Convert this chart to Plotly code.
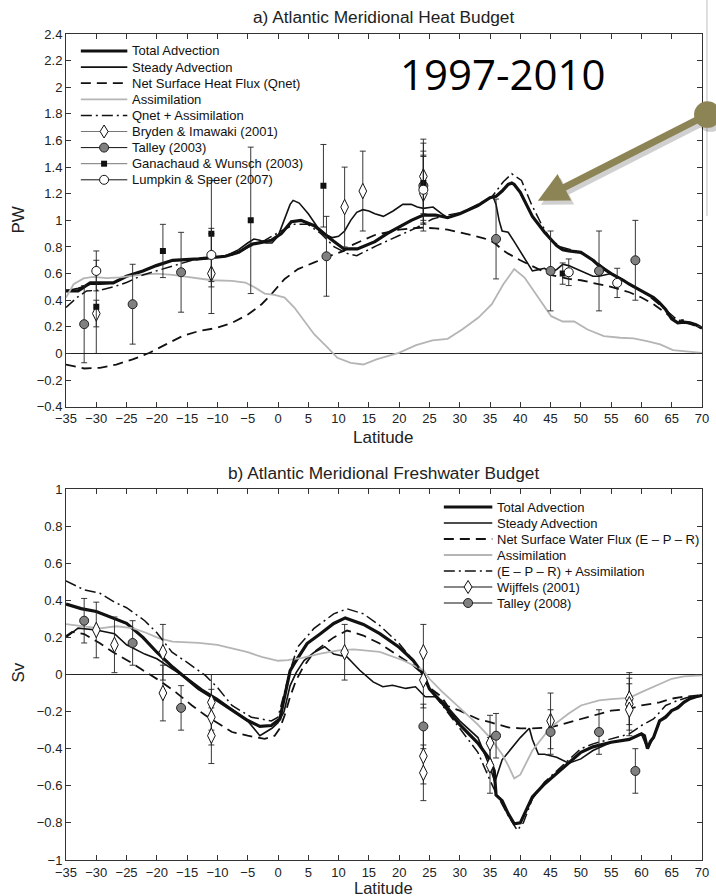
import plotly.graph_objects as go

# ================= Panel a: Atlantic Meridional Heat Budget (PW) =================
ht_total_lat = [-35, -33, -31, -29.4, -27.2, -25, -22.3, -20.1, -17.4, -13.1, -8.7, -6.5, -4.4, -2.7, -1.1,
                0.55, 2.2, 3.8, 6, 8.7, 10.9, 13.1, 16, 18, 20, 22, 24, 26, 28, 30, 33, 35, 36, 37, 38, 38.6,
                39, 40, 41, 42, 43, 44, 45, 46, 47, 48, 50, 52, 53, 55, 57, 58, 60, 62, 63, 64, 65, 66, 67, 68, 69, 70]
ht_total = [0.47, 0.47, 0.53, 0.53, 0.53, 0.58, 0.62, 0.66, 0.70, 0.71, 0.73, 0.76, 0.82, 0.835, 0.85,
            0.90, 0.99, 1.0, 0.96, 0.86, 0.785, 0.785, 0.84, 0.90, 0.95, 1.0, 1.04, 1.04, 1.02, 1.05, 1.11, 1.17,
            1.18, 1.22, 1.27, 1.28, 1.27, 1.21, 1.12, 1.03, 0.97, 0.91, 0.86, 0.81, 0.78, 0.77, 0.76, 0.70, 0.66,
            0.60, 0.55, 0.52, 0.47, 0.42, 0.38, 0.33, 0.26, 0.23, 0.235, 0.23, 0.215, 0.19]

ht_steady_lat = [-35, -33, -31, -29.4, -27.2, -25, -22.3, -20.1, -17.4, -13.1, -8.7, -6.5, -5, -4, -3, -2, -1, 0,
                 1, 2, 2.5, 3.5, 5, 6.5, 8, 9, 10, 11, 12, 13, 14, 15, 16, 17.4, 19, 20.6, 22, 23, 24, 25.6, 27,
                 28, 30, 33, 35, 35.5, 36, 36.5, 37, 38, 39, 40, 41, 42, 43, 44, 45, 46, 47, 48, 49, 50, 52, 53,
                 54, 55, 57, 58, 60, 62, 63, 64, 65, 66, 67, 68, 69, 70]
ht_steady = [0.47, 0.49, 0.52, 0.52, 0.53, 0.58, 0.62, 0.66, 0.70, 0.71, 0.73, 0.78, 0.83, 0.86, 0.85, 0.83,
             0.83, 0.88, 1.0, 1.12, 1.15, 1.13, 1.05, 0.95, 0.89, 0.87, 0.88, 0.92, 1.0, 1.06, 1.08, 1.07, 1.05,
             1.03, 1.07, 1.12, 1.12, 1.10, 1.09, 1.10, 1.05, 1.02, 1.05, 1.11, 1.17, 1.18, 1.12, 1.0, 0.92,
             0.91, 0.84, 0.77, 0.70, 0.62, 0.63, 0.64, 0.61, 0.63, 0.67, 0.66, 0.64, 0.62, 0.58, 0.58, 0.59,
             0.60, 0.55, 0.52, 0.47, 0.42, 0.38, 0.33, 0.26, 0.23, 0.235, 0.23, 0.215, 0.19]

ht_qnet_lat = [-35, -32, -29.4, -26.7, -24, -21.2, -18.5, -15.8, -13.1, -10.3, -7.6, -4.9, -2.7, -1.1, 1.1, 3.3,
               6, 8.7, 10.9, 12, 14, 16, 18, 20, 22, 24, 26, 28, 30, 32, 34, 35, 36, 37, 38, 40, 42, 45, 48, 50,
               52, 55, 58, 60, 62, 64, 65, 66, 67]
ht_qnet = [-0.083, -0.113, -0.108, -0.083, -0.045, 0.005, 0.068, 0.13, 0.168, 0.19, 0.23, 0.294, 0.37, 0.445,
           0.56, 0.634, 0.684, 0.735, 0.77, 0.81, 0.85, 0.89, 0.91, 0.93, 0.94, 0.945, 0.94, 0.93, 0.91, 0.89,
           0.865, 0.85, 0.82, 0.78, 0.75, 0.70, 0.655, 0.59, 0.56, 0.55, 0.53, 0.50, 0.46, 0.42, 0.37, 0.30,
           0.27, 0.25, 0.25]

ht_assim_lat = [-35, -33.75, -32.1, -30.5, -28.3, -26.1, -22.9, -20.1, -17.4, -14.2, -10.9, -7.6, -5.4, -3.8,
                -2.2, -0.55, 1.1, 2.7, 4.4, 6.0, 8.2, 9.8, 12.0, 14.1, 16.25, 19.95, 22.8, 25.5, 28.0, 30.4,
                33.1, 35.3, 37.2, 39.0, 40.7, 42.9, 45.1, 47.0, 48.9, 51.1, 53.8, 56.5, 58.7, 60.9, 63.1,
                65.2, 67.4, 70]
ht_assim = [0.42, 0.52, 0.564, 0.576, 0.566, 0.571, 0.59, 0.60, 0.59, 0.57, 0.55, 0.546, 0.533, 0.496, 0.45,
            0.44, 0.42, 0.345, 0.244, 0.143, 0.043, -0.033, -0.07, -0.083, -0.045, 0.005, 0.063, 0.098, 0.11,
            0.18, 0.27, 0.37, 0.52, 0.634, 0.57, 0.42, 0.28, 0.24, 0.24, 0.18, 0.13, 0.118, 0.113, 0.093,
            0.068, 0.025, 0.018, 0.005]

ht_qa_lat = [-35, -33.2, -31.6, -29.4, -27.2, -25, -22.3, -20.1, -17.4, -14.2, -10.9, -7.6, -4.9, -2.2, 0.55,
             2.7, 4.9, 7.1, 9.3, 11.5, 13, 16.3, 20, 22.8, 25.5, 28, 30.4, 33.1, 35.3, 37.2, 38.6, 40.2, 41.8,
             43.5, 45.1, 46.7, 50, 52.2, 55, 58.2, 60.9, 64.2, 65.8, 67.4, 70]
ht_qa = [0.345, 0.42, 0.47, 0.475, 0.50, 0.533, 0.59, 0.62, 0.66, 0.70, 0.717, 0.74, 0.80, 0.85, 0.92, 0.97,
         0.97, 0.90, 0.80, 0.75, 0.735, 0.81, 0.886, 0.943, 1.01, 1.04, 1.06, 1.125, 1.175, 1.29, 1.35, 1.30,
         1.125, 0.97, 0.85, 0.80, 0.76, 0.70, 0.60, 0.52, 0.445, 0.32, 0.257, 0.23, 0.19]

# observations (heat)
bryden_lat = [-30, -11, 11, 14, 24, 24]
bryden_pw = [0.30, 0.60, 1.10, 1.22, 1.33, 1.20]
bryden_err = [0.10, 0.30, 0.30, 0.30, 0.28, 0.28]

talley03_lat = [-32, -24, -16, 8, 24, 36, 45, 53, 59]
talley03_pw = [0.22, 0.37, 0.61, 0.73, 1.26, 0.86, 0.62, 0.62, 0.70]
talley03_err = [0.29, 0.30, 0.30, 0.30, 0.26, 0.30, 0.30, 0.30, 0.30]

ganach_lat = [-30, -19, -11, -4.5, 7.5, 24, 47]
ganach_pw = [0.35, 0.77, 0.90, 1.00, 1.26, 1.28, 0.60]
ganach_err = [0.35, 0.20, 0.40, 0.55, 0.31, 0.30, 0.08]

lumpkin_lat = [-30, -11, 24, 48, 56]
lumpkin_pw = [0.62, 0.74, 1.23, 0.61, 0.53]
lumpkin_err = [0.15, 0.20, 0.26, 0.10, 0.11]

# ================= Panel b: Atlantic Meridional Freshwater Budget (Sv) =================
fw_total_lat = [-35, -32.5, -30, -27.5, -25, -22.3, -20, -17.4, -15, -13.1, -10, -7.6, -5, -3, -1.1, 0.3, 1, 2,
                2.7, 4.8, 7, 9.2, 11.1, 14.1, 16.8, 20, 22.3, 24, 25, 27, 30, 33, 35, 35.7, 36, 37, 38, 39, 40,
                41, 42, 44, 46, 48, 50, 52, 55, 58, 60, 60.5, 61, 61.5, 62, 63, 64, 65, 66, 67, 68, 69, 70]
fw_total = [0.38, 0.355, 0.34, 0.31, 0.276, 0.20, 0.12, 0.04, -0.023, -0.077, -0.14, -0.194, -0.248, -0.28,
            -0.275, -0.24, -0.14, 0.02, 0.06, 0.167, 0.22, 0.275, 0.305, 0.27, 0.22, 0.147, 0.077, 0.0, -0.077,
            -0.15, -0.27, -0.37, -0.46, -0.52, -0.65, -0.68, -0.75, -0.805, -0.80, -0.73, -0.66, -0.59, -0.535,
            -0.48, -0.42, -0.39, -0.365, -0.35, -0.32, -0.33, -0.40, -0.36, -0.34, -0.25, -0.23, -0.195, -0.18,
            -0.15, -0.13, -0.12, -0.113]

fw_steady_lat = [-35, -33, -30, -27, -25, -22, -20, -17.5, -15, -12.5, -10, -7.5, -5, -4, -3, -2, -1, 0, 1, 2,
                 3, 4.3, 6, 7.7, 9.2, 11.4, 13.5, 15.7, 17.3, 18.9, 21.1, 22.7, 24.3, 26, 27, 28, 30, 33, 35,
                 35.8, 37, 38, 40, 41.5, 42, 43, 44, 46, 48, 50, 52, 53, 55, 58, 60, 61, 62, 63, 65, 67, 68, 70]
fw_steady = [0.20, 0.25, 0.24, 0.22, 0.16, 0.11, 0.085, 0.03, -0.02, -0.08, -0.13, -0.19, -0.25, -0.29,
             -0.33, -0.31, -0.29, -0.26, -0.20, -0.06, 0.01, 0.075, 0.12, 0.15, 0.11, 0.095, 0.023, -0.04,
             -0.066, -0.058, -0.075, -0.066, -0.12, -0.12, -0.14, -0.176, -0.25, -0.34, -0.50, -0.58, -0.46,
             -0.42, -0.34, -0.29, -0.35, -0.43, -0.43, -0.446, -0.478, -0.455, -0.41, -0.395, -0.365, -0.35,
             -0.32, -0.40, -0.34, -0.25, -0.195, -0.15, -0.13, -0.113]

fw_epr_lat = [-35, -34, -32, -29.4, -27.2, -24, -22.3, -19.6, -16.9, -14.2, -12, -9.8, -7.6, -5, -2.2, -0.55,
              0.3, 1.1, 2, 3, 4, 5.9, 9.2, 11.4, 14.1, 16.8, 20, 22.3, 24, 25, 27, 28, 30, 33, 35, 38, 40, 42,
              45, 48, 50, 53, 55, 58, 60, 63, 65, 67, 70]
fw_epr = [0.207, 0.23, 0.218, 0.168, 0.12, 0.06, 0.023, -0.032, -0.095, -0.167, -0.22, -0.266, -0.31, -0.33,
          -0.347, -0.33, -0.29, -0.22, -0.12, -0.03, 0.03, 0.12, 0.20, 0.237, 0.21, 0.167, 0.10, 0.05, 0.0,
          -0.07, -0.12, -0.17, -0.195, -0.24, -0.257, -0.285, -0.29, -0.29, -0.285, -0.257, -0.24, -0.21,
          -0.195, -0.185, -0.167, -0.15, -0.13, -0.12, -0.11]

fw_assim_lat = [-35, -31.6, -29.4, -26.7, -24, -21.8, -19.6, -17.4, -13.1, -10, -7.6, -5, -2.7, 0, 1.6, 4, 7,
                10, 12.5, 16.8, 20.6, 24, 25, 27, 30, 33, 35, 37, 38, 39, 40, 42, 45, 48, 50, 53, 55, 58, 60,
                63, 65, 67, 70]
fw_assim = [0.272, 0.258, 0.249, 0.26, 0.25, 0.225, 0.195, 0.177, 0.171, 0.16, 0.14, 0.12, 0.095, 0.074,
            0.077, 0.09, 0.113, 0.13, 0.135, 0.122, 0.077, 0.023, -0.023, -0.09, -0.18, -0.27, -0.34, -0.43,
            -0.49, -0.56, -0.54, -0.41, -0.285, -0.21, -0.167, -0.14, -0.133, -0.126, -0.095, -0.05, -0.023,
            -0.01, -0.005]

fw_ea_lat = [-35, -32, -29.4, -27, -25, -22, -20, -17.5, -15, -12, -10, -7.6, -4.4, -1.1, 0, 1, 2, 3.2, 5.9,
             9.2, 11.4, 14.1, 16.8, 20, 22.7, 24.1, 25, 27, 30, 33, 35, 36, 38, 39.5, 40.5, 42, 44, 46, 48, 50,
             52, 55, 58, 60, 62, 64, 66, 68, 70]
fw_ea = [0.505, 0.456, 0.438, 0.39, 0.36, 0.29, 0.225, 0.12, 0.065, -0.005, -0.07, -0.167, -0.23, -0.25, -0.23,
         -0.10, 0.02, 0.147, 0.247, 0.327, 0.354, 0.327, 0.264, 0.167, 0.06, -0.01, -0.08, -0.16, -0.29, -0.42,
         -0.57, -0.64, -0.76, -0.84, -0.80, -0.67, -0.58, -0.52, -0.464, -0.40, -0.374, -0.347, -0.32, -0.275,
         -0.24, -0.167, -0.14, -0.12, -0.11]

# observations (freshwater)
wijffels_lat = [-30, -27, -19, -19, -11, -11, -11, 11, 24, 24, 24, 24, 35, 35, 45, 58, 58, 58]
wijffels_sv = [0.24, 0.16, 0.12, -0.10, -0.15, -0.23, -0.33, 0.12, 0.12, -0.03, -0.44, -0.53, -0.37, -0.49,
               -0.25, -0.13, -0.16, -0.19]
wijffels_err = [0.15, 0.15, 0.15, 0.15, 0.15, 0.15, 0.15, 0.15, 0.15, 0.15, 0.15, 0.15, 0.15, 0.15, 0.15,
                0.14, 0.14, 0.14]

talley08_lat = [-32, -24, -16, 24, 36, 45, 53, 59]
talley08_sv = [0.29, 0.17, -0.18, -0.28, -0.33, -0.31, -0.31, -0.52]
talley08_err = [0.12, 0.12, 0.12, 0.12, 0.12, 0.12, 0.12, 0.12]

lat_ticks = list(range(-35, 71, 5))

# ---------------- styles ----------------
BLACK = "#111111"
GRAY = "#b5b5b5"
DASH = "10px,6px"
DASHDOT = "11px,4px,2px,4px"
ERR = dict(type="data", thickness=0.9, width=3, color="#222222")
FONT = "Liberation Sans, Arial, sans-serif"

W, H = 716, 896
ML, MR, MT, MB = 66, 7, 34, 36
PW_, PH_ = W - ML - MR, H - MT - MB


def fx(px):
    return (px - ML) / PW_


def fy(py):
    return (H - MB - py) / PH_


fig = go.Figure()

M_DIAMOND = dict(symbol="diamond-tall", size=11, color="white", line=dict(color=BLACK, width=1))
M_GCIRCLE = dict(symbol="circle", size=9, color="#808080", line=dict(color="#222222", width=1))
M_SQUARE = dict(symbol="square", size=6, color=BLACK, line=dict(color=BLACK, width=0))
M_OCIRCLE = dict(symbol="circle", size=9, color="white", line=dict(color=BLACK, width=1))

# legend glyph shapes (pixel-sized, anchored in paper coords)
G_DIAMOND = dict(type="path", path="M0,6.5 L4,0 L0,-6.5 L-4,0 Z", fillcolor="white",
                 line=dict(color=BLACK, width=1))
G_GCIRCLE = dict(type="circle", x0=-4.5, x1=4.5, y0=-4.5, y1=4.5, fillcolor="#808080",
                 line=dict(color="#222222", width=1))
G_SQUARE = dict(type="rect", x0=-3, x1=3, y0=-3, y1=3, fillcolor=BLACK, line=dict(color=BLACK, width=0))
G_OCIRCLE = dict(type="circle", x0=-4.5, x1=4.5, y0=-4.5, y1=4.5, fillcolor="white",
                 line=dict(color=BLACK, width=1))


def legend_entry(box, i, label, line, glyph=None):
    gx0, gx1, tx, py0, step = box
    py = py0 + i * step
    fig.add_shape(type="line", xref="paper", yref="paper", x0=fx(gx0), x1=fx(gx1), y0=fy(py), y1=fy(py),
                  line=line)
    if glyph is not None:
        g = dict(glyph)
        fig.add_shape(xref="paper", yref="paper", xsizemode="pixel", ysizemode="pixel",
                      xanchor=fx((gx0 + gx1) / 2), yanchor=fy(py), **g)
    fig.add_annotation(text=label, x=fx(tx), y=fy(py), xref="paper", yref="paper", showarrow=False,
                       xanchor="left", yanchor="middle", font=dict(size=13, family=FONT, color="#111111"))


def add_line(x, y, name, width, color=BLACK, dash="solid", xa="x", ya="y", legend_pos=None):
    fig.add_trace(go.Scatter(x=x, y=y, mode="lines", name=name, xaxis=xa, yaxis=ya, showlegend=False,
                             line=dict(color=color, width=width, dash=dash)))
    if legend_pos is not None:
        legend_entry(legend_pos[0], legend_pos[1], name, dict(color=color, width=width, dash=dash))


def add_obs(x, y, err, name, marker, glyph, linecolor, xa="x", ya="y", legend_pos=None):
    e = dict(ERR)
    e["array"] = err
    fig.add_trace(go.Scatter(x=x, y=y, mode="markers", name=name, showlegend=False, xaxis=xa, yaxis=ya,
                             marker=marker, error_y=e))
    if legend_pos is not None:
        legend_entry(legend_pos[0], legend_pos[1], name, dict(color=linecolor, width=1), glyph)


BOX_A = (81, 128, 131, 51, 16.1)
BOX_B = (448, 497, 500, 507, 16.0)

# panel a
add_line(ht_total_lat, ht_total, "Total Advection", 3.2, legend_pos=(BOX_A, 0))
add_line(ht_steady_lat, ht_steady, "Steady Advection", 1.6, legend_pos=(BOX_A, 1))
add_line(ht_qnet_lat, ht_qnet, "Net Surface Heat Flux (Qnet)", 1.8, dash=DASH, legend_pos=(BOX_A, 2))
add_line(ht_assim_lat, ht_assim, "Assimilation", 1.8, color=GRAY, legend_pos=(BOX_A, 3))
add_line(ht_qa_lat, ht_qa, "Qnet + Assimilation", 1.5, dash=DASHDOT, legend_pos=(BOX_A, 4))
add_obs(bryden_lat, bryden_pw, bryden_err, "Bryden & Imawaki (2001)", M_DIAMOND, G_DIAMOND, "#777777",
        legend_pos=(BOX_A, 5))
add_obs(talley03_lat, talley03_pw, talley03_err, "Talley (2003)", M_GCIRCLE, G_GCIRCLE, BLACK,
        legend_pos=(BOX_A, 6))
add_obs(ganach_lat, ganach_pw, ganach_err, "Ganachaud & Wunsch (2003)", M_SQUARE, G_SQUARE, "#777777",
        legend_pos=(BOX_A, 7))
add_obs(lumpkin_lat, lumpkin_pw, lumpkin_err, "Lumpkin & Speer (2007)", M_OCIRCLE, G_OCIRCLE, BLACK,
        legend_pos=(BOX_A, 8))

# panel b
kw = dict(xa="x2", ya="y2")
add_line(fw_total_lat, fw_total, "Total Advection", 3.2, legend_pos=(BOX_B, 0), **kw)
add_line(fw_steady_lat, fw_steady, "Steady Advection", 1.6, legend_pos=(BOX_B, 1), **kw)
add_line(fw_epr_lat, fw_epr, "Net Surface Water Flux (E \u2013 P \u2013 R)", 1.8, dash=DASH,
         legend_pos=(BOX_B, 2), **kw)
add_line(fw_assim_lat, fw_assim, "Assimilation", 1.8, color=GRAY, legend_pos=(BOX_B, 3), **kw)
add_line(fw_ea_lat, fw_ea, "(E \u2013 P \u2013 R) + Assimilation", 1.5, dash=DASHDOT, legend_pos=(BOX_B, 4), **kw)
add_obs(wijffels_lat, wijffels_sv, wijffels_err, "Wijffels (2001)", M_DIAMOND, G_DIAMOND, BLACK,
        legend_pos=(BOX_B, 5), **kw)
add_obs(talley08_lat, talley08_sv, talley08_err, "Talley (2008)", M_GCIRCLE, G_GCIRCLE, BLACK,
        legend_pos=(BOX_B, 6), **kw)

axis_common = dict(showline=True, linecolor="#333333", linewidth=1, mirror="allticks", ticks="inside",
                   ticklen=5, tickcolor="#333333", showgrid=False, ticklabeloverflow="allow",
                   tickfont=dict(size=13, color="#222222"))

fig.update_layout(
    width=W, height=H,
    margin=dict(l=ML, r=MR, t=MT, b=MB),
    paper_bgcolor="white", plot_bgcolor="white",
    font=dict(family=FONT, color="#222222"),
    showlegend=False,
    xaxis=dict(domain=[0, 1], range=[-35, 70], tickvals=lat_ticks, anchor="y", zeroline=False, **axis_common),
    yaxis=dict(domain=[fy(406.7), 1], range=[-0.4, 2.4], dtick=0.2, anchor="x", zeroline=True,
               zerolinecolor="#222222", zerolinewidth=1, **axis_common),
    xaxis2=dict(domain=[0, 1], range=[-35, 70], tickvals=lat_ticks, anchor="y2", zeroline=False, **axis_common),
    yaxis2=dict(domain=[0, fy(489)], range=[-1, 1], dtick=0.2, anchor="x2", zeroline=True,
                zerolinecolor="#222222", zerolinewidth=1, **axis_common),
)

ann = [
    dict(text="a) Atlantic Meridional Heat Budget", x=fx(387), y=fy(17), font=dict(size=17.3)),
    dict(text="b) Atlantic Meridional Freshwater Budget", x=fx(387), y=fy(473), font=dict(size=17.3)),
    dict(text="Latitude", x=fx(387), y=fy(437), font=dict(size=17)),
    dict(text="Latitude", x=fx(387), y=fy(888), font=dict(size=16.5)),
    dict(text="PW", x=fx(17), y=fy(220), textangle=-90, font=dict(size=17)),
    dict(text="Sv", x=fx(17), y=fy(673), textangle=-90, font=dict(size=17)),
    dict(text="1997-2010", x=fx(508), y=fy(74), font=dict(size=42, family="Open Sans, Noto Sans, sans-serif",
                                                          color="black")),
]
for a in ann:
    a.update(xref="paper", yref="paper", showarrow=False, xanchor="center", yanchor="middle")
    fig.add_annotation(**a)

# highlight arrow (shadow + arrow)
for col, dx, dy in [("rgba(0,0,0,0.18)", 3, -4), ("#8d8456", 0, 0)]:
    fig.add_annotation(x=42.9, y=1.147, xref="x", yref="y", ax=171, ay=-87, text="", showarrow=True,
                       arrowcolor=col, arrowwidth=7, arrowhead=2, arrowsize=0.85, arrowside="end+start",
                       startarrowhead=6, startarrowsize=0.95, xshift=dx, yshift=dy)

fig.add_shape(type="line", xref="paper", yref="paper", x0=fx(714), x1=fx(714), y0=fy(216), y1=fy(0),
              line=dict(color="#d4d4d4", width=1.5))

fig.write_html("out.html", config={"displayModeBar": False},
               post_script="document.body.style.margin='0';document.body.style.overflow='hidden';")
